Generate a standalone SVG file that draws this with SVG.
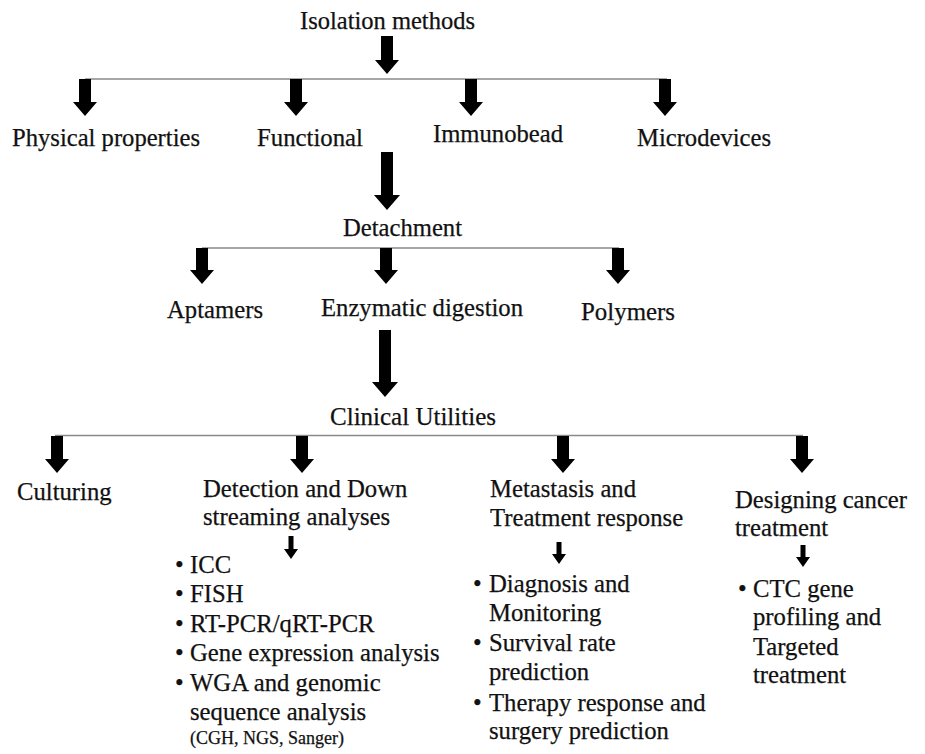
<svg xmlns="http://www.w3.org/2000/svg" width="925" height="754" viewBox="0 0 925 754">
<style>
text{font-family:"Liberation Serif","Times New Roman",serif;font-size:24.7px;fill:#111;stroke:#111;stroke-width:0.25}
.s{font-size:18px}
.ln{stroke:#8a8a8a;stroke-width:1.6;fill:none}
.ar{fill:#000}
</style>
<rect width="925" height="754" fill="#fff"/>
<g id="connectors">
<line class="ln" x1="85" y1="79" x2="667" y2="79"/>
<line class="ln" x1="202" y1="248" x2="619" y2="248"/>
<line class="ln" x1="55" y1="435.5" x2="803" y2="435.5"/>
<polygon class="ar" points="381,36 393,36 393,60 399,60 387,74 375,60 381,60"/>
<polygon class="ar" points="79,79 91,79 91,102 97,102 85,116 73,102 79,102"/>
<polygon class="ar" points="290,79 302,79 302,102 308,102 296,116 284,102 290,102"/>
<polygon class="ar" points="465,79 477,79 477,102 483,102 471,116 459,102 465,102"/>
<polygon class="ar" points="659,79 671,79 671,102 677,102 665,116 653,102 659,102"/>
<polygon class="ar" points="381,152 393,152 393,195 400,195 387,210 374,195 381,195"/>
<polygon class="ar" points="196,248 208,248 208,270 214,270 202,284 190,270 196,270"/>
<polygon class="ar" points="380,248 392,248 392,270 398,270 386,284 374,270 380,270"/>
<polygon class="ar" points="612,248 624,248 624,270 630,270 618,284 606,270 612,270"/>
<polygon class="ar" points="379,330 391,330 391,382 398,382 385,397 372,382 379,382"/>
<polygon class="ar" points="51,436 63,436 63,459 69,459 57,473 45,459 51,459"/>
<polygon class="ar" points="296,436 308,436 308,459 314,459 302,473 290,459 296,459"/>
<polygon class="ar" points="557,436 569,436 569,459 575,459 563,473 551,459 557,459"/>
<polygon class="ar" points="796,436 808,436 808,459 814,459 802,473 790,459 796,459"/>
<polygon class="ar" points="288.5,536 293.5,536 293.5,549 298,549 291,559 284,549 288.5,549"/>
<polygon class="ar" points="556.5,542 561.5,542 561.5,554 566,554 559,564 552,554 556.5,554"/>
<polygon class="ar" points="800.5,545 805.5,545 805.5,557 810,557 803,567 796,557 800.5,557"/>
</g>
<g id="isolation"><text x="300" y="29" textLength="175" lengthAdjust="spacingAndGlyphs">Isolation methods</text></g>
<g id="physical"><text x="12" y="146" textLength="188" lengthAdjust="spacingAndGlyphs">Physical properties</text></g>
<g id="functional"><text x="257" y="146" textLength="106" lengthAdjust="spacingAndGlyphs">Functional</text></g>
<g id="immunobead"><text x="433" y="142" textLength="130" lengthAdjust="spacingAndGlyphs">Immunobead</text></g>
<g id="microdevices"><text x="637" y="146" textLength="134" lengthAdjust="spacingAndGlyphs">Microdevices</text></g>
<g id="detachment"><text x="343" y="236" textLength="119" lengthAdjust="spacingAndGlyphs">Detachment</text></g>
<g id="aptamers"><text x="167" y="318" textLength="96" lengthAdjust="spacingAndGlyphs">Aptamers</text></g>
<g id="enzymatic"><text x="321" y="316" textLength="202" lengthAdjust="spacingAndGlyphs">Enzymatic digestion</text></g>
<g id="polymers"><text x="581" y="320" textLength="94" lengthAdjust="spacingAndGlyphs">Polymers</text></g>
<g id="clinical"><text x="330" y="425" textLength="166" lengthAdjust="spacingAndGlyphs">Clinical Utilities</text></g>
<g id="culturing"><text x="17" y="500">Culturing</text></g>
<g id="detection">
<text x="203" y="497">Detection and Down</text>
<text x="203" y="525">streaming analyses</text>
<text x="175" y="573">•</text><text x="190" y="573">ICC</text>
<text x="175" y="602">•</text><text x="190" y="602">FISH</text>
<text x="175" y="632">•</text><text x="190" y="632">RT-PCR/qRT-PCR</text>
<text x="175" y="661">•</text><text x="190" y="661">Gene expression analysis</text>
<text x="175" y="691">•</text><text x="190" y="691">WGA and genomic</text>
<text x="190" y="720">sequence analysis</text>
<text class="s" x="190" y="744">(CGH, NGS, Sanger)</text>
</g>
<g id="metastasis">
<text x="490" y="497">Metastasis and</text>
<text x="490" y="526">Treatment response</text>
<text x="473" y="592">•</text><text x="489" y="592">Diagnosis and</text>
<text x="489" y="621">Monitoring</text>
<text x="473" y="651">•</text><text x="489" y="651">Survival rate</text>
<text x="489" y="680">prediction</text>
<text x="473" y="711">•</text><text x="489" y="711">Therapy response and</text>
<text x="489" y="739">surgery prediction</text>
</g>
<g id="designing">
<text x="735" y="508">Designing cancer</text>
<text x="735" y="536">treatment</text>
<text x="738" y="597">•</text><text x="753" y="597">CTC gene</text>
<text x="753" y="625">profiling and</text>
<text x="753" y="655">Targeted</text>
<text x="753" y="683">treatment</text>
</g>
</svg>
